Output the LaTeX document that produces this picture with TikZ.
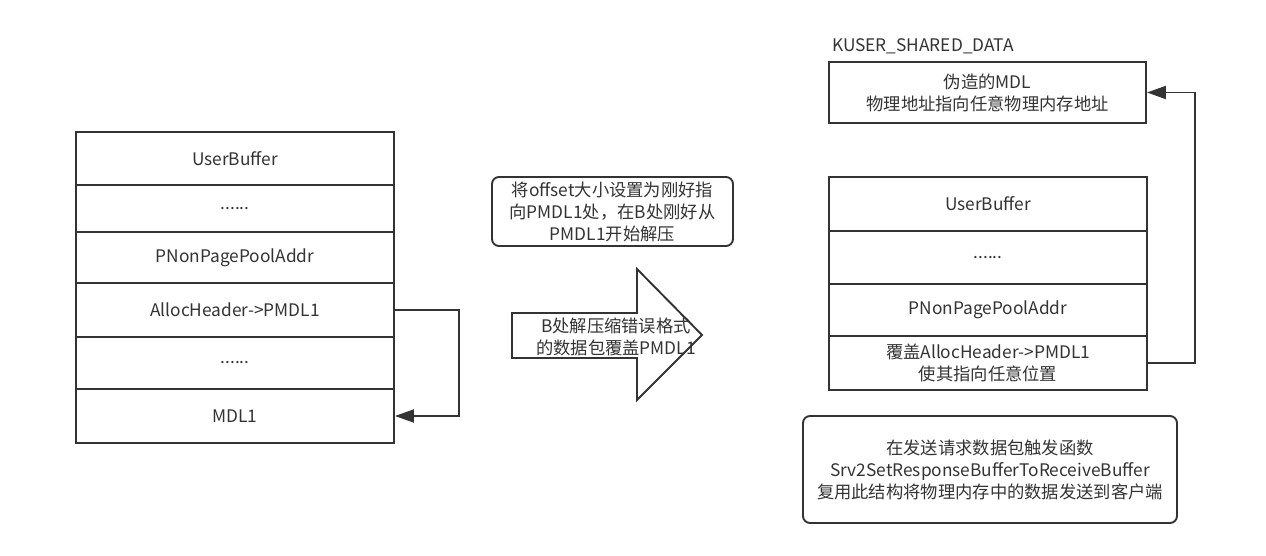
\documentclass[tikz,border=0pt]{standalone}
\usepackage{fontspec}
\setmainfont{Noto Sans CJK SC}
\usetikzlibrary{arrows.meta}
\definecolor{ln}{HTML}{333333}
\definecolor{tx}{HTML}{333333}
\begin{document}
\begin{tikzpicture}[x=1pt,y=-1pt,
  every node/.style={font=\fontsize{17.3}{22}\selectfont, text=tx, inner sep=0pt},
  cell/.style={draw=ln, line width=1.9pt, rectangle, minimum width=318pt, align=center},
  rbox/.style={draw=ln, line width=1.9pt, rounded corners=7pt, align=center},
  conn/.style={draw=ln, line width=1.9pt, -{Triangle[length=19pt,width=13pt]}}
]
\useasboundingbox (0,0) rectangle (1266,556);
% left stack
\node[cell, minimum height=53pt] (l1) at (235,158.5) {UserBuffer};
\node[cell, minimum height=47pt] (l2) at (235,208.5) {......};
\node[cell, minimum height=51pt] (l3) at (235,257.5) {PNonPagePoolAddr};
\node[cell, minimum height=54pt] (l4) at (235,310) {AllocHeader->PMDL1};
\node[cell, minimum height=52pt] (l5) at (235,363) {......};
\node[cell, minimum height=54pt] (l6) at (235,416) {MDL1};
\draw[conn] (l4.east) -- ++(64,0) |- (l6.east);
% middle
\node[rbox, minimum width=241pt, minimum height=69pt] (mid) at (612.5,211.5)
  {将offset大小设置为刚好指\\向PMDL1处，在B处刚好从\\PMDL1开始解压};
\draw[ln, line width=1.9pt, fill=white] (512,313) -- (637,313) -- (637,269) -- (702,335)
  -- (637,400) -- (637,358) -- (512,358) -- cycle;
\node[align=center] (arrtxt) at (616,337) {B处解压缩错误格式\\的数据包覆盖PMDL1};
% right
\node[anchor=west] (ks) at (832,46) {KUSER\_SHARED\_DATA};
\node[cell, minimum width=317pt, minimum height=61pt] (top) at (987.5,92.5)
  {伪造的MDL\\物理地址指向任意物理内存地址};
\node[cell, minimum height=54pt] (q1) at (988,204) {UserBuffer};
\node[cell, minimum height=53pt] (q2) at (988,257.5) {......};
\node[cell, minimum height=52pt] (q3) at (988,310) {PNonPagePoolAddr};
\node[cell, minimum height=54pt] (q4) at (988,363) {覆盖AllocHeader->PMDL1\\使其指向任意位置};
\draw[conn] (q4.east) -- ++(47,0) |- (top.east);
\node[rbox, minimum width=374pt, minimum height=107pt] (bot) at (990,469.5)
  {在发送请求数据包触发函数\\Srv2SetResponseBufferToReceiveBuffer\\复用此结构将物理内存中的数据发送到客户端};
\end{tikzpicture}
\end{document}
